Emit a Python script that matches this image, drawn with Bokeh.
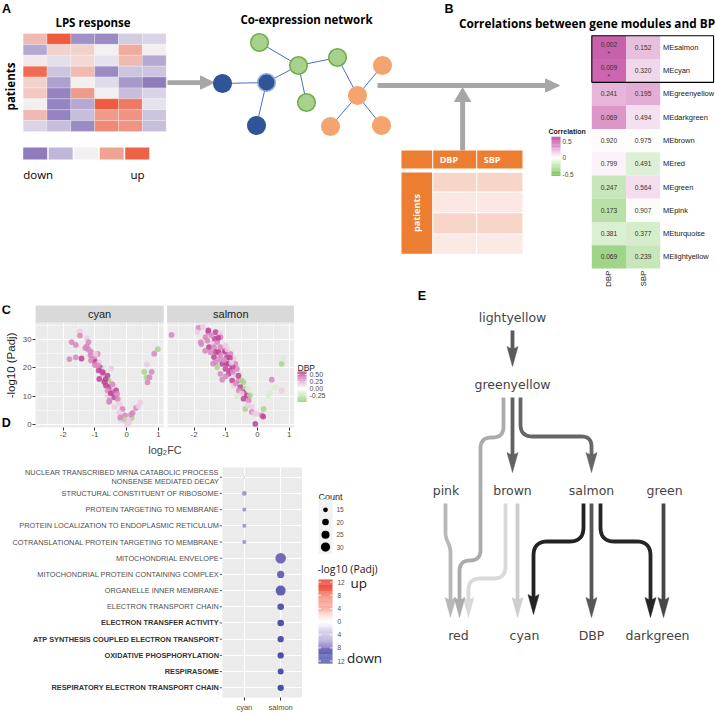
import numpy as np
from bokeh.plotting import figure
from bokeh.layouts import row, column
from bokeh.models import Range1d, FactorRange, FixedTicker, LinearColorMapper, ColumnDataSource
from bokeh.transform import transform
from bokeh.core.properties import value
from bokeh.embed import file_html
from bokeh.resources import INLINE

# ======================= DATA =======================
# Panel A: LPS response heat map (rows = patients, columns = genes); -1 down ... +1 up
lps_response = [
    [0.35, 0.95, -0.65, -0.70, -0.25, -0.20],
    [-0.50, 0.20, 0.20, 0.00, 0.45, 0.02],
    [0.05, -0.12, 0.15, -0.10, 0.35, -0.50],
    [0.85, -0.30, 0.35, -0.70, -0.30, -0.30],
    [0.20, -0.55, 0.00, -0.15, -0.60, -0.80],
    [0.25, -0.75, 0.55, 0.00, -0.35, -0.20],
    [0.02, -0.75, -0.50, 0.95, 0.75, -0.10],
    [0.35, -0.75, -0.35, 0.55, 0.60, -0.30],
    [-0.20, -0.35, -0.70, 0.65, 0.60, -0.35],
]
lps_scale_levels = [-0.80, -0.40, 0.00, 0.50, 0.90]
table_traits = ["DBP", "SBP"]
table_shades = ["#f8d5c9", "#fbe8e2", "#f8d5c9", "#fbe9e4"]

# Panel B: module-trait correlations
bp_traits = ["DBP", "SBP"]
bp_modules = ["MEsalmon", "MEcyan", "MEgreenyellow", "MEdarkgreen", "MEbrown",
              "MEred", "MEgreen", "MEpink", "MEturquoise", "MElightyellow"]
bp_corr_dbp = [0.47, 0.45, 0.22, 0.31, 0.01, 0.04, -0.20, -0.25, -0.13, -0.34]
bp_corr_sbp = [0.19, 0.12, 0.24, 0.09, -0.01, -0.12, 0.10, -0.02, -0.15, -0.20]
bp_p_dbp = ["0.002", "0.009", "0.241", "0.069", "0.920", "0.799", "0.247", "0.173", "0.381", "0.069"]
bp_p_sbp = ["0.152", "0.320", "0.195", "0.494", "0.975", "0.491", "0.564", "0.907", "0.377", "0.239"]
bp_star_dbp = ["*", "*", "", "", "", "", "", "", "", ""]
corr_ticks = [0.5, 0.0, -0.5]

# Panel C: volcano plots, colour = DBP correlation
M, P, L, LG, G = 0.55, 0.35, 0.15, -0.15, -0.35
cyan_lfc = [-1.47, -1.47, -1.73, -1.60, -1.25, -1.20, -1.25, -1.20, -1.12, -1.80,
            -1.60, -1.42, -1.14, -0.91, -1.02, -1.12, -0.98, -0.86, -0.81, -0.70,
            -0.88, -0.49, -0.76, -0.86, -0.60, -0.57, -0.70, -0.65, -0.54, -0.41,
            -0.60, -0.44, -0.33, -0.60, -0.39, -0.28, -0.54, -0.23, -0.39, -0.13,
            -0.23, -0.05, -0.18, -0.02, -0.07, 0.08, 0.01, 0.16, 0.19, 0.30,
            0.37, 0.14, 0.56, 0.64, 0.63, 0.72, 0.66, 0.79, 0.87, 0.98,
            -1.08, -0.98, -0.66, -0.50, -0.45, -0.30, -1.30, -1.00, -0.75, -0.55,
            -0.20, 0.05, 0.43, -0.90]
cyan_padj = [32.9, 31.4, 29.1, 28.1, 30.5, 29.1, 27.6, 26.4, 25.6, 23.1,
             23.7, 23.3, 24.4, 24.9, 23.3, 22.6, 22.1, 21.8, 20.0, 19.7,
             19.1, 19.7, 18.0, 16.1, 17.2, 15.6, 15.0, 13.8, 13.2, 13.5,
             12.0, 11.4, 12.0, 10.2, 9.6, 9.0, 8.5, 7.3, 6.1, 5.5,
             4.3, 3.2, 1.6, 1.1, 1.9, 0.7, -0.1, 2.3, 4.1, 5.9,
             6.5, 3.5, 18.6, 21.2, 16.6, 16.6, 14.9, 18.6, 25.0, 26.6,
             24.4, 24.9, 16.0, 11.0, 14.2, 10.8, 27.0, 21.0, 18.5, 8.0,
             2.5, 1.5, 7.8, 20.8]
cyan_dbp = [L, P, P, P, L, P, P, P, P, P,
            P, M, P, P, P, P, M, L, M, LG,
            M, L, P, M, M, G, M, M, M, L,
            P, P, M, L, M, P, P, L, L, P,
            L, P, L, L, G, L, L, G, P, P,
            L, P, G, L, G, P, P, P, P, G,
            P, L, M, M, P, P, P, P, M, P,
            P, L, L, P]
salmon_lfc = [-2.71, -1.86, -1.72, -1.90, -1.55, -1.32, -1.17, -1.64, -1.35, -1.17,
              -1.79, -1.58, -1.43, -1.27, -1.53, -1.37, -1.17, -1.01, -1.48, -1.22,
              -1.01, -0.85, -1.37, -1.17, -0.96, -0.75, -1.32, -1.11, -0.91, -0.70,
              -1.27, -1.01, -0.85, -0.65, -1.17, -0.91, -0.70, -0.54, -1.11, -0.80,
              -0.59, -0.44, -0.75, -0.54, -0.39, -0.59, -0.44, -0.28, -0.65, -0.44,
              -0.28, -0.39, -0.18, -0.18, -0.02, 0.14, 0.19, -0.07, 0.34, 0.40,
              0.45, 0.76, 0.76, 0.81,
              -1.55, -1.77, -1.24, -1.31, -1.03, -0.87, -0.98, -0.79, -0.60, -0.50,
              -0.34, -0.24, -0.31, -0.11, 0.18, 0.54,
              -1.45, -1.65, -1.20, -0.95, -1.05, -0.78, -1.00, -0.68, -0.50, -0.82,
              -1.40, -0.30]
salmon_padj = [31.6, 34.1, 34.4, 32.6, 32.6, 32.6, 32.2, 30.8, 30.2, 30.8,
               29.1, 29.6, 28.5, 29.1, 27.3, 27.3, 27.3, 27.9, 25.5, 25.5,
               25.5, 24.9, 23.8, 24.4, 23.8, 23.2, 22.0, 21.4, 21.4, 21.4,
               20.2, 19.6, 19.1, 19.6, 17.9, 17.9, 17.3, 17.9, 15.8, 15.5,
               15.5, 14.9, 13.8, 13.2, 12.6, 12.0, 11.4, 10.2, 10.2, 9.1,
               8.5, 5.5, 6.1, 4.4, 3.8, 3.2, 5.5, 0.2, 10.2, 11.1,
               15.8, 12.0, 21.4, 23.5,
               33.2, 28.4, 30.6, 25.6, 25.9, 23.5, 21.6, 20.4, 17.2, 15.6,
               10.3, 10.3, 12.6, 3.8, 2.8, 13.1,
               31.5, 26.0, 23.0, 26.5, 22.8, 18.6, 17.0, 14.5, 11.0, 21.8,
               21.5, 6.8]
salmon_dbp = [P, P, L, L, P, M, L, P, M, P,
              P, P, L, P, M, P, P, L, P, M,
              P, P, M, P, M, L, P, M, M, P,
              G, M, M, P, P, M, L, LG, P, M,
              P, G, L, M, G, P, M, G, LG, M,
              P, G, L, P, L, P, G, M, LG, LG,
              P, L, G, LG,
              M, P, M, M, M, M, M, M, M, G,
              M, G, LG, L, M, LG,
              P, P, P, L, P, P, P, P, L, L,
              P, L]
c_ticks = [-2, -1, 0, 1]
c_yticks = [0, 10, 20, 30]
c_legend_ticks = [0.50, 0.25, 0.00, -0.25]

# Panel D: GO enrichment dot plot
go_terms = ["NUCLEAR TRANSCRIBED MRNA CATABOLIC PROCESS NONSENSE MEDIATED DECAY",
            "STRUCTURAL CONSTITUENT OF RIBOSOME",
            "PROTEIN TARGETING TO MEMBRANE",
            "PROTEIN LOCALIZATION TO ENDOPLASMIC RETICULUM",
            "COTRANSLATIONAL PROTEIN TARGETING TO MEMBRANE",
            "MITOCHONDRIAL ENVELOPE",
            "MITOCHONDRIAL PROTEIN CONTAINING COMPLEX",
            "ORGANELLE INNER MEMBRANE",
            "ELECTRON TRANSPORT CHAIN",
            "ELECTRON TRANSFER ACTIVITY",
            "ATP SYNTHESIS COUPLED ELECTRON TRANSPORT",
            "OXIDATIVE PHOSPHORYLATION",
            "RESPIRASOME",
            "RESPIRATORY ELECTRON TRANSPORT CHAIN"]
go_labels = ["NUCLEAR TRANSCRIBED MRNA CATABOLIC PROCESS\nNONSENSE MEDIATED DECAY"] + go_terms[1:]
go_bold = [False] * 9 + [True] * 5
go_module = ["cyan"] * 5 + ["salmon"] * 9
go_count = [10, 15, 14, 14, 14, 36, 22, 33, 20, 20, 19, 19, 18, 19]
go_logp_signed = [-5.5, -6.0, -5.8, -5.8, -5.8, -8.7, -9.2, -9.8, -10.8, -11.2, -11.5, -11.6, -11.6, -11.8]
go_modules = ["cyan", "salmon"]
count_breaks = [15, 20, 25, 30]
logp_ticks = [12, 8, 4, 0, -4, -8, -12]

# Panel E: module network
e_names = ["lightyellow", "greenyellow", "pink", "brown", "salmon", "green",
           "red", "cyan", "DBP", "darkgreen"]

# ======================= HELPERS =======================
S = 1.0


def fs(v):
    return f"{v * S:.2f}px"


def hex2rgb(h):
    return tuple(int(h[i:i + 2], 16) for i in (1, 3, 5))


def ramp(anchors, n=256):
    pos = np.array([a[0] for a in anchors], float)
    cols = np.array([hex2rgb(a[1]) for a in anchors], float)
    out = []
    for v in np.linspace(pos[0], pos[-1], n):
        rgb = [int(round(np.interp(v, pos, cols[:, k]))) for k in range(3)]
        out.append("#%02x%02x%02x" % tuple(rgb))
    return out


def canvas(x0, x1, y0, y1, w, h):
    p = figure(width=w, height=h, x_range=Range1d(x0, x1), y_range=Range1d(y1, y0),
               x_axis_type=None, y_axis_type=None, toolbar_location=None,
               output_backend="svg", min_border=0)
    p.min_border_left = p.min_border_right = p.min_border_top = p.min_border_bottom = 0
    p.outline_line_color = None
    p.background_fill_color = "white"
    p.border_fill_color = "white"
    return p


def txt(p, x, y, t, size, color="#000000", font="Liberation Sans", style="normal",
        align="center", baseline="middle", angle=0.0, **kw):
    return p.text(x=[x], y=[y], text=[t], text_font=value(font), text_font_size=fs(size),
                  text_color=color, text_font_style=style, text_align=align,
                  text_baseline=baseline, angle=angle, **kw)


def idx_range(lo, hi, origin, step):
    return Range1d(start=(lo - origin) / step - 0.5, end=(hi - origin) / step - 0.5)


def rounded(pts, r):
    out = [pts[0]]
    for i in range(1, len(pts) - 1):
        p0, p1, p2 = (np.array(pts[i - 1], float), np.array(pts[i], float), np.array(pts[i + 1], float))
        d1 = p1 - p0
        d2 = p2 - p1
        l1 = np.hypot(*d1)
        l2 = np.hypot(*d2)
        rr = min(r, l1 / 2, l2 / 2)
        a = p1 - d1 / l1 * rr
        b = p1 + d2 / l2 * rr
        for t in np.linspace(0, 1, 10):
            q = (1 - t) ** 2 * a + 2 * (1 - t) * t * p1 + t ** 2 * b
            out.append((q[0], q[1]))
    out.append(pts[-1])
    return [q[0] for q in out], [q[1] for q in out]


lps_mapper = LinearColorMapper(palette=ramp([(-1, "#7560b0"), (0, "#f3f1f3"), (1, "#ee5436")]), low=-1, high=1)
b_mapper = LinearColorMapper(palette=ramp([(-0.6, "#57b52e"), (0, "#ffffff"), (0.6, "#bb3596")]), low=-0.6, high=0.6)
c_mapper = LinearColorMapper(palette=ramp([(-0.6, "#6cb83a"), (0, "#ffffff"), (0.6, "#b8328f")]), low=-0.6, high=0.6)
d_mapper = LinearColorMapper(palette=ramp([(-12.6, "#3a49a6"), (-8, "#7d6fbd"), (-4, "#cdc2e2"), (0, "#ffffff"),
                                           (4, "#f8b4a6"), (8, "#f47762"), (12.6, "#ee3a2c")]), low=-12.6, high=12.6)
GRAY = "#a6a6a6"
ORANGE = "#ed7d31"

# ======================= TOP (A + B) =======================
T = canvas(0, 715, 0, 287, 715, 287)
T.extra_x_ranges = {"ax": idx_range(0, 715, 22.7, 23.83), "bx": idx_range(0, 715, 591.3, 34.2)}
T.extra_y_ranges = {"ay": idx_range(287, 0, 33.0, 10.89), "by": idx_range(287, 0, 35.3, 23.27)}

txt(T, 1.5, 8, "A", 12.5, style="bold", align="left")
txt(T, 92.5, 22, "LPS response", 11.5, font="Open Sans", style="bold")
txt(T, 10, 86, "patients", 11.5, font="Open Sans", style="bold", angle=np.pi / 2)

ac, ar, av = [], [], []
for r_i, rowv in enumerate(lps_response):
    for c_i, v in enumerate(rowv):
        ac.append(c_i)
        ar.append(r_i)
        av.append(v)
T.rect(x="c", y="r", width=1, height=1, source=ColumnDataSource(dict(c=ac, r=ar, v=av)),
       x_range_name="ax", y_range_name="ay", fill_color=transform("v", lps_mapper),
       line_color="white", line_alpha=0.4, line_width=0.6)

lg_left = [22.7 + i * 25.5 for i in range(len(lps_scale_levels))]
T.quad(left="l", right="rr", top=147, bottom=159,
       source=ColumnDataSource(dict(l=lg_left, rr=[x + 24 for x in lg_left], v=lps_scale_levels)),
       fill_color=transform("v", lps_mapper), line_color=None)
txt(T, 22.7, 173.5, "down", 11.5, font="Open Sans", align="left")
txt(T, 130, 173.5, "up", 11.5, font="Open Sans", align="left")

# arrow A -> network
T.quad(left=167, right=201, top=79.8, bottom=84.4, fill_color=GRAY, line_color=None)
T.patch(x=[200, 213.5, 200], y=[75.5, 82.1, 88.7], fill_color=GRAY, line_color=GRAY)

# co-expression network
txt(T, 306, 19, "Co-expression network", 11.5, font="Open Sans", style="bold")
nodes_x = [222, 266, 256, 259, 298, 337, 306, 357, 382, 381, 330]
nodes_y = [83, 82, 125, 42, 65, 57, 102, 95, 65, 125, 126]
nodes_fill = ["#2e5597"] * 3 + ["#a9d18e"] * 4 + ["#f4a46e"] * 4
nodes_line = ["#2e5597", "#8faadc", "#2e5597"] + ["#70ad47"] * 4 + ["#f4a46e"] * 4
edges = [(0, 1), (1, 2), (1, 4), (3, 4), (4, 5), (4, 6), (5, 7), (7, 8), (7, 9), (7, 10)]
T.segment(x0=[nodes_x[a] for a, b in edges], y0=[nodes_y[a] for a, b in edges],
          x1=[nodes_x[b] for a, b in edges], y1=[nodes_y[b] for a, b in edges],
          line_color="#4472c4", line_width=1)
T.scatter(x=nodes_x, y=nodes_y, size=17.5, fill_color=nodes_fill, line_color=nodes_line, line_width=1.6)

# arrows network -> B, table -> arrow
T.quad(left=377, right=546, top=82.6, bottom=87.4, fill_color=GRAY, line_color=None)
T.patch(x=[545, 559, 545], y=[78.5, 85, 91.5], fill_color=GRAY, line_color=GRAY)
T.quad(left=459.6, right=464.6, top=100, bottom=150, fill_color=GRAY, line_color=None)
T.patch(x=[454, 462.1, 470.2], y=[101, 87.5, 101], fill_color=GRAY, line_color=GRAY)

# trait table
col_l = [432.7, 476.7]
col_r = [475.7, 522.0]
T.quad(left=401, right=431.6, top=150, bottom=168, fill_color=ORANGE, line_color=None)
T.quad(left=col_l, right=col_r, top=150, bottom=168, fill_color=ORANGE, line_color=None)
for k, t in enumerate(table_traits):
    txt(T, col_l[k] + 6.5, 159, t, 9, color="white", font="Open Sans", style="bold", align="left")
T.quad(left=401, right=431.6, top=172, bottom=253.3, fill_color=ORANGE, line_color=None)
txt(T, 416.3, 212.5, "patients", 9.2, color="white", font="Open Sans", style="bold", angle=np.pi / 2)
row_t = [172.3, 191.9, 212.7, 234.0]
row_b = [190.9, 211.7, 233.0, 253.3]
for k in range(len(table_shades)):
    T.quad(left=col_l, right=col_r, top=row_t[k], bottom=row_b[k], fill_color=table_shades[k], line_color=None)

# panel B
txt(T, 444, 8, "B", 12.5, style="bold", align="left")
txt(T, 586.5, 22, "Correlations between gene modules and BP", 11.8, font="Open Sans", style="bold")
bc, br, bv, bt, bty, sx, sy, st = [], [], [], [], [], [], [], []
for i, mod in enumerate(bp_modules):
    for j, (corr, ptxt, star) in enumerate([(bp_corr_dbp[i], bp_p_dbp[i], bp_star_dbp[i]),
                                            (bp_corr_sbp[i], bp_p_sbp[i], "")]):
        bc.append(j)
        br.append(i)
        bv.append(corr)
        bt.append(ptxt)
        bty.append(i - 0.14 if star else i)
        if star:
            sx.append(j)
            sy.append(i + 0.27)
            st.append(star)
T.rect(x="c", y="r", width=1, height=1, source=ColumnDataSource(dict(c=bc, r=br, v=bv)),
       x_range_name="bx", y_range_name="by", fill_color=transform("v", b_mapper), line_color=None)
T.text(x=bc, y=bty, text=bt, x_range_name="bx", y_range_name="by", text_font=value("Liberation Sans"),
       text_font_size=fs(6.6), text_color="#333333", text_align="center", text_baseline="middle")
T.text(x=sx, y=sy, text=st, x_range_name="bx", y_range_name="by", text_font=value("Liberation Sans"),
       text_font_size=fs(6.6), text_color="#333333", text_align="center", text_baseline="middle")
T.text(x=[len(bp_traits) - 0.5 + 0.08] * len(bp_modules), y=list(range(len(bp_modules))), text=bp_modules,
       x_range_name="bx", y_range_name="by", text_font=value("Liberation Sans"), text_font_size=fs(7.5),
       text_color="#1a1a1a", text_align="left", text_baseline="middle")
T.text(x=list(range(len(bp_traits))), y=[len(bp_modules) - 0.5 + 0.09] * len(bp_traits), text=bp_traits,
       x_range_name="bx", y_range_name="by", text_font=value("Liberation Sans"), text_font_size=fs(8),
       text_color="#1a1a1a", text_align="right", text_baseline="middle", angle=np.pi / 2)
T.quad(left=-0.5, right=3.06, top=-0.5, bottom=1.5, fill_color=None, line_color="black", line_width=1.1,
       x_range_name="bx", y_range_name="by")
# correlation colour bar
txt(T, 548, 131, "Correlation", 7, color="#1a1a1a", style="bold", align="left")
cv = np.linspace(-0.55, 0.62, 50)
dv = cv[1] - cv[0]
T.quad(left="l", right="rr", top="t", bottom="b",
       source=ColumnDataSource(dict(l=[551] * len(cv), rr=[560] * len(cv), t=list(157 - (cv + dv / 2) * 33),
                                    b=list(157 - (cv - dv / 2) * 33), v=list(cv))),
       fill_color=transform("v", b_mapper), line_color=None)
for tk in corr_ticks:
    txt(T, 562, 157 - tk * 33, f"{tk:g}", 6.5, color="#444444", align="left")

# ======================= C =======================
OFF = 4.125
C_left = canvas(0, 19, 287, 462, 19, 175)
txt(C_left, 1.2, 294, "C", 12.5, style="bold", align="left")
txt(C_left, 10.5, 373, "-log10 (Padj)", 11.5, color="#1a1a1a", angle=np.pi / 2)
txt(C_left, 1.2, 455.5, "D", 12.5, style="bold", align="left")

C = figure(width=275, height=175, x_range=Range1d(-2.87, 1.165 + OFF), y_range=Range1d(-1.06, 42.0),
           toolbar_location=None, output_backend="svg",
           min_border_left=14, min_border_right=0, min_border_top=18, min_border_bottom=35)
C.background_fill_color = "#ebebeb"
C.border_fill_color = "white"
C.outline_line_color = None
xt = [float(t) for t in c_ticks] + [t + OFF for t in c_ticks]
xmt = [t + 0.5 for t in [-3] + c_ticks[:-1]] + [t + 0.5 + OFF for t in [-3] + c_ticks[:-1]]
C.xaxis.ticker = FixedTicker(ticks=xt)
C.xaxis.major_label_overrides = {t: str(lab) for t, lab in zip(xt, c_ticks + c_ticks)}
C.yaxis.ticker = FixedTicker(ticks=c_yticks)
C.xgrid.ticker = FixedTicker(ticks=xt, minor_ticks=xmt)
C.ygrid.ticker = FixedTicker(ticks=c_yticks, minor_ticks=[5, 15, 25, 35])
for g in (C.xgrid, C.ygrid):
    g.grid_line_color = "white"
    g.grid_line_width = 1.1
    g.minor_grid_line_color = "white"
    g.minor_grid_line_width = 0.5
for ax in (C.xaxis, C.yaxis):
    ax.axis_line_color = None
    ax.major_tick_line_color = "#333333"
    ax.major_tick_out = 3
    ax.major_tick_in = 0
    ax.minor_tick_line_color = None
    ax.major_label_text_font = "Liberation Sans"
    ax.major_label_text_font_size = fs(7.8)
    ax.major_label_text_color = "#4d4d4d"
    ax.major_label_standoff = 1
C.xaxis.axis_label = "log₂FC"
C.xaxis.axis_label_text_font = "Liberation Sans"
C.xaxis.axis_label_text_font_style = "normal"
C.xaxis.axis_label_text_font_size = fs(11)
C.xaxis.axis_label_standoff = 4
C.quad(left=1.165, right=1.165 + (OFF - 4.0), bottom=-1.06, top=42.0, fill_color="white", line_color=None)
strip_l = [-2.87, -2.85 + OFF]
strip_r = [1.165, 1.165 + OFF]
C.quad(left=strip_l, right=strip_r, bottom=36.0, top=42.0, fill_color="#d9d9d9", line_color=None)
C.text(x=[(a + b) / 2 for a, b in zip(strip_l, strip_r)], y=[39.0, 39.0], text=["cyan", "salmon"],
       text_font=value("Liberation Sans"), text_font_size=fs(11), text_color="#1a1a1a",
       text_align="center", text_baseline="middle")
C.scatter(x="x", y="y", source=ColumnDataSource(dict(x=cyan_lfc, y=cyan_padj, d=cyan_dbp)),
          size=5.8, fill_color=transform("d", c_mapper), line_color=None, fill_alpha=0.85)
C.scatter(x="x", y="y", source=ColumnDataSource(dict(x=list(np.array(salmon_lfc) + OFF), y=salmon_padj, d=salmon_dbp)),
          size=5.8, fill_color=transform("d", c_mapper), line_color=None, fill_alpha=0.85)

C_leg = canvas(294, 400, 287, 462, 106, 175)
txt(C_leg, 297, 377, "DBP", 8.5, color="#1a1a1a", align="left")
lv = np.linspace(-0.475, 0.6, 55)
ldv = lv[1] - lv[0]
C_leg.quad(left="l", right="rr", top="t", bottom="b",
           source=ColumnDataSource(dict(l=[297] * len(lv), rr=[306] * len(lv), t=list(406 - (lv + ldv / 2) * 40),
                                        b=list(406 - (lv - ldv / 2) * 40), v=list(lv))),
           fill_color=transform("v", c_mapper), line_color=None)
for tk in c_legend_ticks:
    yy = 406 - tk * 40
    C_leg.segment(x0=[297, 304.3], x1=[298.7, 306], y0=[yy, yy], y1=[yy, yy], line_color="white", line_width=0.8)
    txt(C_leg, 309, yy, f"{tk:.2f}", 7, color="#4d4d4d", align="left")

# ======================= D =======================
go_y = FactorRange(factors=list(reversed(go_terms)), range_padding=0.2 / len(go_terms))
go_x = FactorRange(factors=go_modules, range_padding=0.1)
D = figure(width=80, height=253, x_range=go_x, y_range=go_y, y_axis_location=None,
           toolbar_location=None, output_backend="svg",
           min_border_left=0, min_border_right=0, min_border_top=5, min_border_bottom=18)
D.background_fill_color = "#ebebeb"
D.border_fill_color = "white"
D.outline_line_color = None
for g in (D.xgrid, D.ygrid):
    g.grid_line_color = "white"
    g.grid_line_width = 1.1
D.xaxis.axis_line_color = None
D.xaxis.major_tick_line_color = "#333333"
D.xaxis.major_tick_out = 3
D.xaxis.major_tick_in = 0
D.xaxis.major_label_text_font = "Liberation Sans"
D.xaxis.major_label_text_font_size = fs(7.5)
D.xaxis.major_label_text_color = "#4d4d4d"
D.xaxis.major_label_standoff = 2


def count_size(c):
    return float(np.sqrt(max(4.3 * c - 42.0, 1.5)))


D.scatter(x="m", y="t", size="s", fill_color=transform("v", d_mapper), line_color=None,
          source=ColumnDataSource(dict(m=go_module, t=go_terms, s=[count_size(c) for c in go_count],
                                       v=go_logp_signed)))

D_label = figure(width=222, height=253, x_range=Range1d(0, 222), y_range=go_y,
                 x_axis_type=None, y_axis_type=None, toolbar_location=None, output_backend="svg",
                 min_border_left=0, min_border_right=0, min_border_top=5, min_border_bottom=18)
D_label.outline_line_color = None
D_label.background_fill_color = "white"
D_label.border_fill_color = "white"
label_style = dict(text_font=value("Liberation Sans"), text_font_size=fs(7.35), text_align="right",
                   text_baseline="middle")
for t, lab, b in zip(go_terms, go_labels, go_bold):
    lines = lab.split("\n")
    n = len(lines)
    for k, line in enumerate(lines):
        D_label.text(x=[218.5], y=[t], text=[line], y_offset=(k - (n - 1) / 2) * 9.3,
                     text_color="#333333" if b else "#4d4d4d",
                     text_font_style="bold" if b else "normal", **label_style)
D_label.segment(x0=[219.2] * len(go_terms), x1=[222] * len(go_terms), y0=go_terms, y1=go_terms,
                line_color="#333333", line_width=0.8)

D_leg = canvas(302, 400, 462, 715, 98, 253)
txt(D_leg, 318, 494, "Count", 9, color="#1a1a1a", align="left")
D_leg.quad(left=318, right=332, top=497, bottom=557, fill_color="#f2f2f2", line_color=None)
key_y = [508.5, 522, 536, 549.5]
D_leg.scatter(x=[325] * len(count_breaks), y=key_y, size=[count_size(c) for c in count_breaks],
              fill_color="black", line_color=None)
for yy, c in zip(key_y, count_breaks):
    txt(D_leg, 336, yy, str(c), 6.5, color="#4d4d4d", align="left")
txt(D_leg, 317, 574, "-log10 (Padj)", 10.5, color="#1a1a1a", font="Open Sans", align="left")
gv = np.linspace(-12.6, 12.6, 80)
gdv = gv[1] - gv[0]
D_leg.quad(left="l", right="rr", top="t", bottom="b",
           source=ColumnDataSource(dict(l=[318] * len(gv), rr=[332] * len(gv),
                                        t=list(631.5 - (gv + gdv / 2) * 3.62),
                                        b=list(631.5 - (gv - gdv / 2) * 3.62), v=list(gv))),
           fill_color=transform("v", d_mapper), line_color=None)
for tk in logp_ticks:
    yy = 631.5 - tk * 3.62
    D_leg.segment(x0=[318, 329.5], x1=[320.5, 332], y0=[yy, yy], y1=[yy, yy], line_color="white", line_width=0.8)
    txt(D_leg, 337, yy, str(abs(tk)), 6.5, color="#4d4d4d", align="left")
txt(D_leg, 350, 589, "up", 13.5, color="#1a1a1a", font="Open Sans", align="left")
txt(D_leg, 346.5, 672, "down", 13.5, color="#1a1a1a", font="Open Sans", align="left")

# ======================= E =======================
E = canvas(400, 715, 287, 715, 315, 428)
txt(E, 421.5, 295, "E", 12.5, style="bold", align="center")
e_xy = {"lightyellow": (512, 317), "greenyellow": (512, 384), "pink": (445.5, 490), "brown": (512, 490),
        "salmon": (591, 490), "green": (664, 490), "red": (458, 635), "cyan": (524, 635),
        "DBP": (591, 635), "darkgreen": (657, 635)}
for nm in e_names:
    x, y = e_xy[nm]
    txt(E, x, y, nm, 12.5, color="#444444", font="DejaVu Sans")

HL, HW, NOTCH = 20, 5.5, 3
e_arrows = [
    ([(445, 503), (445, 536), (450, 548), (450, 617)], 5, "#b8b8b8"),
    ([(505, 503), (505, 578), (468, 578), (468, 617)], 12, "#d9d9d9"),
    ([(517, 503), (517, 617)], 0, "#cdcdcd"),
    ([(503, 397), (503, 437), (480, 437), (480, 560), (459, 560), (459, 617)], 11, "#ababab"),
    ([(512, 330), (512, 366)], 0, "#5a5a5a"),
    ([(512, 397), (512, 472)], 0, "#616161"),
    ([(520, 397), (520, 436), (591, 436), (591, 472)], 12, "#666666"),
    ([(591, 503), (591, 617)], 0, "#575757"),
    ([(663, 503), (663, 617)], 0, "#474747"),
    ([(583, 503), (583, 541), (533, 541), (533, 614)], 14, "#222222"),
    ([(600, 503), (600, 541), (650, 541), (650, 617)], 14, "#262626"),
]
for pts, rad, col in e_arrows:
    tipx, tipy = pts[-1]
    shaft = pts[:-1] + [(tipx, tipy - HL + NOTCH + 1)]
    xs, ys = rounded(shaft, rad) if len(shaft) > 2 else ([q[0] for q in shaft], [q[1] for q in shaft])
    E.line(xs, ys, line_color=col, line_width=3.8, line_join="round", line_cap="butt")
    E.patch(x=[tipx - HW, tipx, tipx + HW, tipx], y=[tipy - HL, tipy, tipy - HL, tipy - HL + NOTCH],
            fill_color=col, line_color=col, line_width=0.5)

layout = column(T, row(column(row(C_left, C, C_leg), row(D_label, D, D_leg)), E))
open("out.html", "w").write(file_html(layout, INLINE))
